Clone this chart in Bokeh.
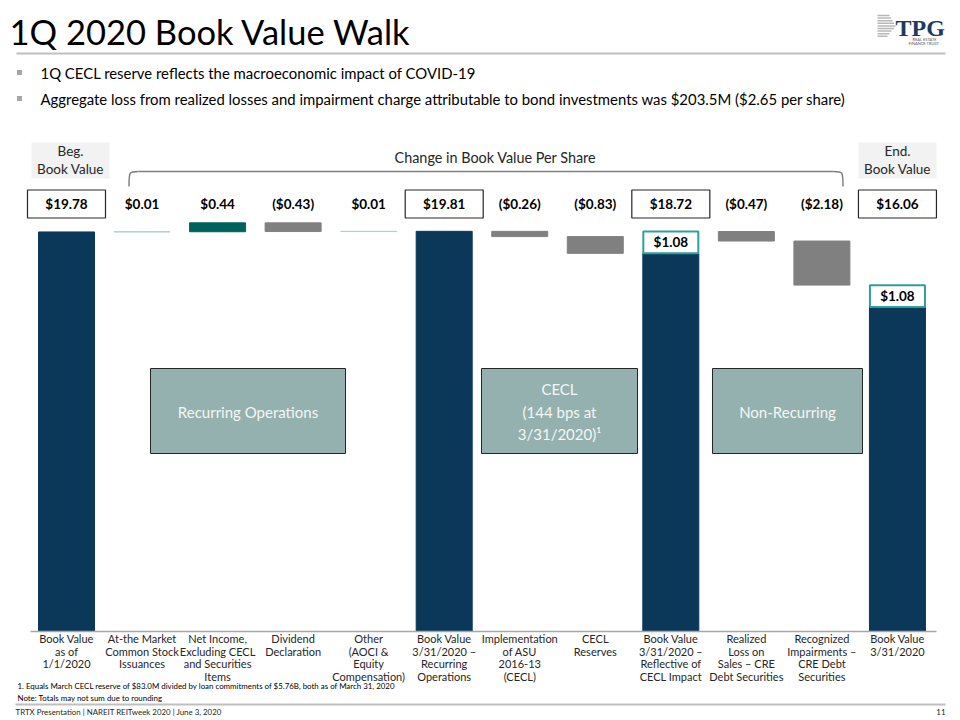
from bokeh.plotting import figure
from bokeh.models import Range1d, ColumnDataSource
from bokeh.core.properties import value
from bokeh.embed import file_html
from bokeh.resources import INLINE

# ---------------- data ----------------
categories = [
    "Book Value\nas of\n1/1/2020",
    "At-the Market\nCommon Stock\nIssuances",
    "Net Income,\nExcluding CECL\nand Securities\nItems",
    "Dividend\nDeclaration",
    "Other\n(AOCI &\nEquity\nCompensation)",
    "Book Value\n3/31/2020 \u2013\nRecurring\nOperations",
    "Implementation\nof ASU\n2016-13\n(CECL)",
    "CECL\nReserves",
    "Book Value\n3/31/2020 \u2013\nReflective of\nCECL Impact",
    "Realized\nLoss on\nSales \u2013 CRE\nDebt Securities",
    "Recognized\nImpairments \u2013\nCRE Debt\nSecurities",
    "Book Value\n3/31/2020",
]
start_value = 19.78
recurring_changes = [0.01, 0.44, -0.43, 0.01]
recurring_total = 19.81
cecl_changes = [-0.26, -0.83]
cecl_total = 18.72
nonrecurring_changes = [-0.47, -2.18]
end_value = 16.06
cecl_addback = 1.08
value_labels = ["$19.78", "$0.01", "$0.44", "($0.43)", "$0.01", "$19.81",
                "($0.26)", "($0.83)", "$18.72", "($0.47)", "($2.18)", "$16.06"]
total_flags = [True, False, False, False, False, True,
               False, False, True, False, False, True]

# ---------------- styles ----------------
NAVY = "#0B3859"
TEAL = "#00605C"
LTEAL = "#A9D2D0"
GREY = "#808080"
BOXFILL = "#94B1AF"
BOXLINE = "#2E9F9A"
FONT = value("Lato")
bar_colors = [NAVY, LTEAL, TEAL, GREY, LTEAL, NAVY, GREY, GREY, NAVY, GREY, GREY, NAVY]

# reference-pixel -> data helpers (layout only)
X0, PXX = 66.0, 75.54
Y0, PXY = 631.0, 20.2
def X(px):
    return (px - X0) / PXX
def Y(py):
    return (Y0 - py) / PXY

# ---------------- waterfall computation ----------------
bottoms, tops = [], []
bottoms.append(0.0); tops.append(start_value)
run = start_value
for c in recurring_changes:
    bottoms.append(min(run, run + c)); tops.append(max(run, run + c)); run += c
bottoms.append(0.0); tops.append(recurring_total)
run = recurring_total
for c in cecl_changes:
    bottoms.append(min(run, run + c)); tops.append(max(run, run + c)); run += c
bottoms.append(0.0); tops.append(cecl_total)
run = cecl_total + cecl_addback
for c in nonrecurring_changes:
    bottoms.append(min(run, run + c)); tops.append(max(run, run + c)); run += c
bottoms.append(0.0); tops.append(end_value)
xs = list(range(len(categories)))

p = figure(width=960, height=720,
           x_range=Range1d(X(0), X(960)), y_range=Range1d(Y(720), Y(0)),
           output_backend="svg", toolbar_location=None, min_border=0,
           x_axis_location=None, y_axis_location=None)
p.grid.visible = False
p.outline_line_color = None
p.background_fill_color = "white"

def txt(x, y, t, size, color="black", align="left", baseline="middle", style="normal", font=FONT, lh=1.2):
    p.text(x=[x], y=[y], text=[t], text_font=font, text_font_size=size, text_color=color,
           text_align=align, text_baseline=baseline, text_font_style=style, text_line_height=lh)

# ---------------- header ----------------
txt(X(9), Y(31), "1Q 2020 Book Value Walk", "34.5px", color="#000000")
p.segment(x0=[X(16)], y0=[Y(53)], x1=[X(945)], y1=[Y(53)], line_color="#BFBFBF", line_width=2)

# logo
for k in range(9):
    yy = 15 + k * 2.6
    ln = 18 - abs(k - 4) * 1.5 if k < 6 else 10 + (8 - k) * 2
    p.segment(x0=[X(877)], y0=[Y(yy)], x1=[X(877 + ln)], y1=[Y(yy)], line_color="#B8B8B8", line_width=1.5)
txt(X(895), Y(27), "TPG", "24px", color="#1F3A60", style="bold", font=value("Liberation Serif"))
txt(X(912), Y(38.5), "REAL ESTATE", "4px", color="#555555")
txt(X(908), Y(43), "FINANCE TRUST", "4px", color="#555555")

# bullets
for yy, t in [(72, "1Q CECL reserve reflects the macroeconomic impact of COVID-19"),
              (98, "Aggregate loss from realized losses and impairment charge attributable to bond investments was $203.5M ($2.65 per share)")]:
    p.rect(x=[X(19)], y=[Y(yy)], width=5 / PXX, height=5 / PXY, fill_color="#A6A6A6", line_color=None)
    txt(X(40), Y(yy), t, "14.9px", color="#000000")

# Beg./End. boxes
for cx in (70, 897):
    p.rect(x=[X(cx)], y=[Y(160)], width=78 / PXX, height=36 / PXY, fill_color="#F2F2F2", line_color=None)
txt(X(70), Y(159.5), "Beg.\nBook Value", "13.5px", color="#262626", align="center", lh=1.1)
txt(X(897), Y(159.5), "End.\nBook Value", "13.5px", color="#262626", align="center", lh=1.1)
txt(X(495), Y(157), "Change in Book Value Per Share", "14.4px", color="#262626", align="center")

# bracket
BR = "#7F7F7F"
p.bezier(x0=[X(128.5)], y0=[Y(186)], x1=[X(138)], y1=[Y(171)], cx0=[X(128.5)], cy0=[Y(171)],
         cx1=[X(128.5)], cy1=[Y(171)], line_color=BR, line_width=1.5)
p.segment(x0=[X(138)], y0=[Y(171)], x1=[X(833)], y1=[Y(171)], line_color=BR, line_width=1.5)
p.bezier(x0=[X(833)], y0=[Y(171)], x1=[X(842.5)], y1=[Y(186)], cx0=[X(842.5)], cy0=[Y(171)],
         cx1=[X(842.5)], cy1=[Y(171)], line_color=BR, line_width=1.5)

# value labels row
box_x = [x for x, f in zip(xs, total_flags) if f]
p.rect(x=box_x, y=[Y(203.5)] * len(box_x), width=78 / PXX, height=28 / PXY,
       fill_color="white", line_color="#262626", line_width=1.2)
p.text(x=xs, y=[Y(203.5)] * len(xs), text=value_labels, text_font=FONT, text_font_size="13.5px",
       text_font_style="bold", text_align="center", text_baseline="middle", text_color="#000000")

# ---------------- bars ----------------
src = ColumnDataSource(dict(x=xs, bottom=bottoms, top=tops, color=bar_colors))
p.vbar(x="x", bottom="bottom", top="top", width=56 / PXX, fill_color="color", line_color="color",
       line_width=1, source=src)

# CECL add-back boxes
add_x = [8, 11]
add_bottom = [cecl_total, end_value]
add_top = [cecl_total + cecl_addback, end_value + cecl_addback]
p.vbar(x=add_x, bottom=add_bottom, top=add_top, width=55 / PXX, fill_color="white",
       line_color=BOXLINE, line_width=2)
p.text(x=add_x, y=[(b + t) / 2 for b, t in zip(add_bottom, add_top)],
       text=["$%.2f" % cecl_addback] * 2, text_font=FONT, text_font_size="13.5px",
       text_font_style="bold", text_align="center", text_baseline="middle", text_color="#000000")

# baseline
p.segment(x0=[X(30)], y0=[0], x1=[X(936)], y1=[0], line_color="#A6A6A6", line_width=1.5)

# overlay boxes
for (l, r, t) in [(150, 345, "Recurring Operations"),
                  (481, 637, "CECL\n(144 bps at\n3/31/2020)\u00b9"),
                  (712, 862, "Non-Recurring")]:
    p.quad(left=[X(l)], right=[X(r)], top=[Y(368)], bottom=[Y(453)], fill_color=BOXFILL,
           line_color="#262626", line_width=1)
    txt(X((l + r) / 2), Y(411), t, "15px", color="#F4F6F6", align="center", lh=1.25)

# category labels
p.text(x=xs, y=[Y(631.5)] * len(xs), text=categories, text_font=FONT, text_font_size="11px",
       text_align="center", text_baseline="top", text_color="#262626", text_line_height=0.98)

# footnotes
txt(X(17), Y(685), "1. Equals March CECL reserve of $83.0M divided by loan commitments of $5.76B, both as of March 31, 2020",
    "7.9px", color="#000000")
txt(X(17), Y(697), "Note: Totals may not sum due to rounding", "7.9px", color="#000000")
p.segment(x0=[X(15)], y0=[Y(704)], x1=[X(945)], y1=[Y(704)], line_color="#BFBFBF", line_width=2)
txt(X(15), Y(711), "TRTX Presentation | NAREIT REITweek 2020 | June 3, 2020", "7.9px", color="#262626")
txt(X(945), Y(711), "11", "7.9px", color="#262626", align="right")

open("out.html", "w").write(file_html(p, INLINE))
